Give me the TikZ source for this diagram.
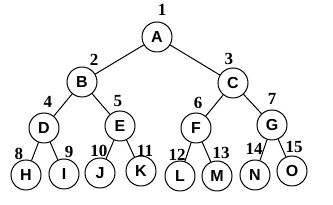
\documentclass[tikz,border=0pt]{standalone}
\usepackage{fontspec}
\setmainfont{Liberation Serif}
\setsansfont{Liberation Sans}

\begin{document}
\begin{tikzpicture}[x=1pt, y=-1pt,
  vertex/.style={draw, circle, line width=1pt, minimum size=30pt, inner sep=0pt,
    font=\sffamily\bfseries\fontsize{16}{16}\selectfont},
  num/.style={inner sep=0pt, font=\rmfamily\bfseries\fontsize{17}{17}\selectfont}]
  \useasboundingbox (0,0) rectangle (333,205);

  % Tree nodes
  \node[vertex] (A) at (157, 37) {A};
  \node[vertex] (B) at (82, 82) {B};
  \node[vertex] (C) at (233, 83) {C};
  \node[vertex] (D) at (44, 128) {D};
  \node[vertex] (E) at (120, 126) {E};
  \node[vertex] (F) at (196, 128) {F};
  \node[vertex] (G) at (272, 125) {G};
  \node[vertex] (H) at (26, 175) {H};
  \node[vertex] (I) at (64, 174) {I};
  \node[vertex] (J) at (100, 173) {J};
  \node[vertex] (K) at (141, 171) {K};
  \node[vertex] (L) at (180, 176) {L};
  \node[vertex] (M) at (217, 176) {M};
  \node[vertex] (N) at (255, 175) {N};
  \node[vertex] (O) at (292, 171) {O};

  % Edges
  \draw[line width=1pt] (A) -- (B);
  \draw[line width=1pt] (A) -- (C);
  \draw[line width=1pt] (B) -- (D);
  \draw[line width=1pt] (B) -- (E);
  \draw[line width=1pt] (C) -- (F);
  \draw[line width=1pt] (C) -- (G);
  \draw[line width=1pt] (D) -- (H);
  \draw[line width=1pt] (D) -- (I);
  \draw[line width=1pt] (E) -- (J);
  \draw[line width=1pt] (E) -- (K);
  \draw[line width=1pt] (F) -- (L);
  \draw[line width=1pt] (F) -- (M);
  \draw[line width=1pt] (G) -- (N);
  \draw[line width=1pt] (G) -- (O);

  % Index labels
  \node[num] (n1) at (162, 10) {1};
  \node[num] (n2) at (94, 60) {2};
  \node[num] (n3) at (229, 59) {3};
  \node[num] (n4) at (48, 102) {4};
  \node[num] (n5) at (118, 101) {5};
  \node[num] (n6) at (198, 103) {6};
  \node[num] (n7) at (272, 99) {7};
  \node[num] (n8) at (19, 154) {8};
  \node[num] (n9) at (69, 152) {9};
  \node[num] (n10) at (99, 151) {10};
  \node[num] (n11) at (145, 151) {11};
  \node[num] (n12) at (177, 155) {12};
  \node[num] (n13) at (221, 153) {13};
  \node[num] (n14) at (254, 149) {14};
  \node[num] (n15) at (294, 147) {15};

\end{tikzpicture}
\end{document}
